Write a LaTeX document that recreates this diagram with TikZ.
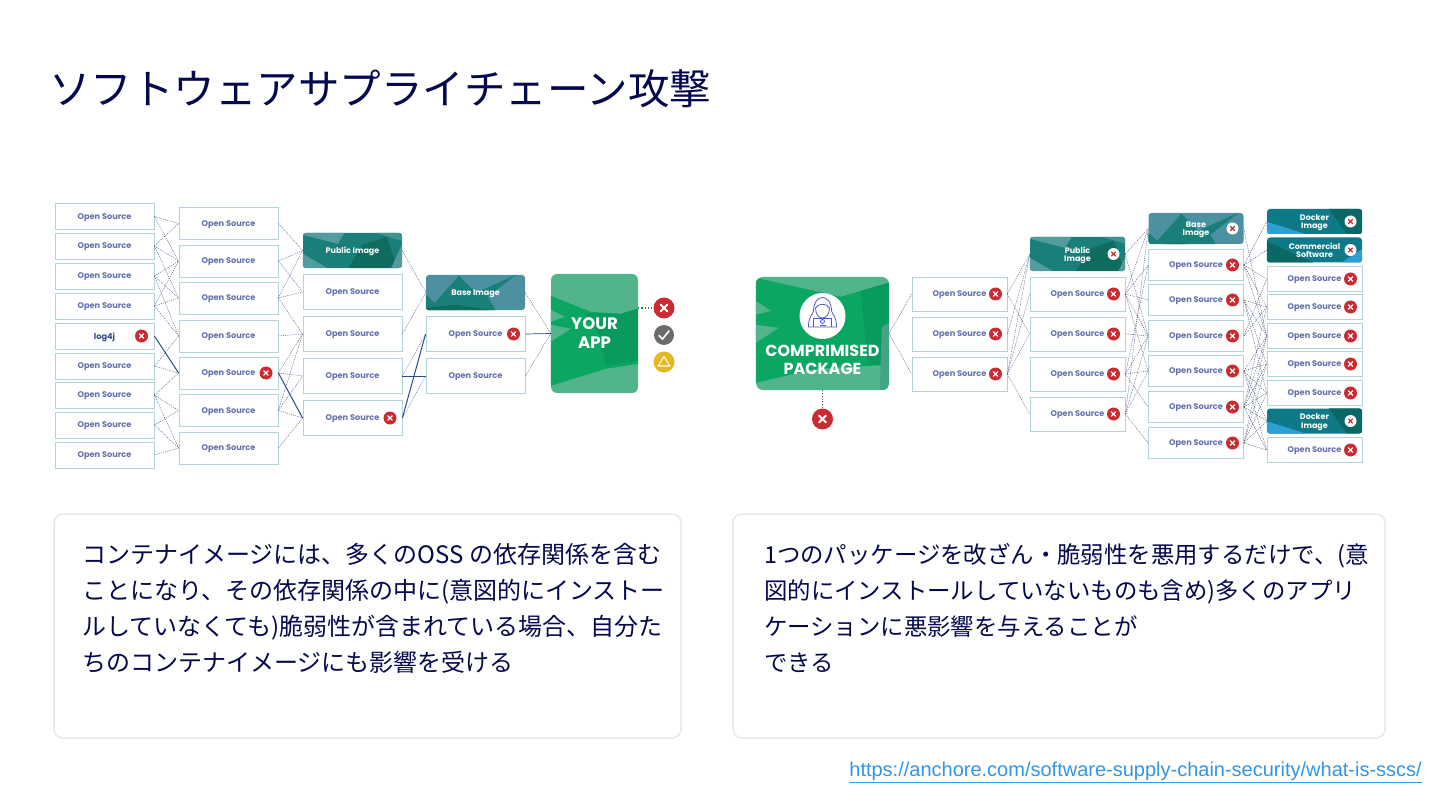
\documentclass[tikz,border=0pt]{standalone}
\usepackage{fontspec}
\setmainfont{Liberation Sans}
\newfontfamily\jpfont{Noto Sans CJK JP}
\newfontfamily\popfont{Poppins}
\usetikzlibrary{calc}
\definecolor{navy}{HTML}{06084F}
\definecolor{ossblue}{HTML}{6470AE}
\definecolor{boxline}{HTML}{B2D3DA}
\definecolor{panelline}{HTML}{E6E8EC}
\definecolor{linkblue}{HTML}{2F96E8}
\definecolor{depline}{HTML}{3C4A78}
\definecolor{hitline}{HTML}{2C4A8A}
\definecolor{markred}{HTML}{CB2A30}
\definecolor{markgrey}{HTML}{696B6C}
\definecolor{markyellow}{HTML}{E6B71E}
\definecolor{leafgreen}{HTML}{52B48A}
\definecolor{midgreen}{HTML}{0CA663}
\definecolor{deepgreen}{HTML}{099A5E}
\definecolor{pubteal}{HTML}{1A7F78}
\definecolor{pubdark}{HTML}{0F6C5E}
\definecolor{publight}{HTML}{529C9D}
\definecolor{baseblue}{HTML}{4C90A2}
\definecolor{dockteal}{HTML}{0E7A88}
\definecolor{dockdark}{HTML}{0B6766}
\definecolor{docklight}{HTML}{2CA0D2}
\newcommand{\paintfacets}[3]{
    \begin{scope}
        \clip[rounded corners=#2] (#1.south west) rectangle (#1.north east);
        \begin{scope}[shift={(#1.north west)}] #3 \end{scope}
    \end{scope}}
\newcommand{\pubfacets}{
    \fill[publight] (0,0) -- (42,0) -- (35,11) -- (0,2) -- cycle;
    \fill[publight] (0,21) -- (26,36) -- (0,36) -- cycle;
    \fill[pubdark] (45,36) -- (60,12) -- (84,4) -- (95,36) -- cycle;
    \fill[publight] (88,36) -- (99,12) -- (99,36) -- cycle;
    \fill[publight!70!pubteal] (72,0) -- (99,0) -- (99,8) -- cycle;}
\newcommand{\basefacets}{
    \fill[pubteal] (0,20) -- (9,28) -- (33,1) -- (50,18) -- (90,0) -- (62,22) -- (70,36) -- (0,36) -- cycle;
    \fill[pubdark] (0,33) -- (30,30) -- (70,36) -- (0,36) -- cycle;}
\newcommand{\dockfacets}{
    \fill[dockdark] (62,0) -- (95,0) -- (95,25) -- (80,25) -- cycle;
    \fill[docklight] (0,13) -- (38,25) -- (0,25) -- cycle;}
\newcommand{\commfacets}{
    \fill[dockdark] (0,4) -- (46,25) -- (0,25) -- cycle;
    \fill[docklight] (75,25) -- (95,12) -- (95,25) -- cycle;}
\newcommand{\appfacets}{
    \fill[midgreen] (0,22) -- (40,38) -- (70,40) -- (87,35) -- (87,90) -- (55,95) -- (0,112) -- cycle;
    \fill[deepgreen] (32,39) -- (70,40) -- (87,35) -- (87,87) -- (55,92) -- (48,60) -- cycle;
    \fill[leafgreen] (0,36) -- (14,43) -- (0,48) -- cycle;
    \fill[leafgreen] (0,51) -- (20,55) -- (0,68) -- cycle;}
\newcommand{\pkgfacets}{
    \fill[midgreen] (0,1) -- (85,20) -- (133,6) -- (133,88) -- (60,92) -- (0,106) -- cycle;
    \fill[deepgreen] (105,14) -- (133,6) -- (133,88) -- (112,88) -- cycle;
    \fill[leafgreen] (0,24) -- (15,34) -- (0,38) -- cycle;
    \fill[leafgreen] (0,48) -- (23,51) -- (0,66) -- cycle;
    \fill[pubteal!30!leafgreen] (126,50) -- (133,46) -- (133,113) -- (124,113) -- cycle;}
\begin{document}
\begin{tikzpicture}[x=1pt, y=-1pt,
    srcbox/.style={draw=boxline, line width=0.8pt, fill=white, inner sep=0pt, text depth=0pt, font=\popfont\bfseries\fontsize{8.2}{9}\selectfont, text=ossblue, align=center},
    tile/.style={rounded corners=3pt, inner sep=0pt, fill=#1},
    tilename/.style={inner sep=0pt, text=white, text depth=0pt, align=center, font=\popfont\bfseries\fontsize{8}{8.4}\selectfont},
    bigname/.style 2 args={inner sep=0pt, text=white, text depth=0pt, align=center, font=\popfont\bfseries\fontsize{#1}{#2}\selectfont},
    xcross/.style n args={3}{circle, inner sep=0pt, minimum size=#1, fill=#2, path picture={
        \draw[#3, line width={.1*#1}, line cap=round]
            ($(path picture bounding box.center)!.33!(path picture bounding box.north east)$) -- ($(path picture bounding box.center)!.33!(path picture bounding box.south west)$)
            ($(path picture bounding box.center)!.33!(path picture bounding box.north west)$) -- ($(path picture bounding box.center)!.33!(path picture bounding box.south east)$);}},
    dep/.style={depline, line width=0.35pt, dash pattern=on 1.2pt off 1pt},
    hit/.style={hitline, line width=1pt},
    solidlink/.style={hitline, line width=0.7pt},
    panel/.style={draw=panelline, line width=1.5pt, rounded corners=9pt, fill=white, inner sep=0pt}]
    \useasboundingbox (0,0) rectangle (1440,810);

    \node[anchor=west, text=navy, font=\jpfont\fontsize{41.5}{42}\selectfont, inner sep=0pt] (title) at (49,89) {ソフトウェアサプライチェーン攻撃};

    % Left tree
    \foreach \i/\y in {1/216.5, 2/246, 3/276, 4/306, 6/366, 7/395, 8/425, 9/455}
        \node[srcbox, minimum width=99, minimum height=26] (a\i) at (104.5,\y) {Open Source};
    \node[srcbox, minimum width=99, minimum height=26, text=hitline] (a5) at (104.5,336) {log4j};
    \foreach \i/\y in {1/223.5, 2/261, 3/298, 4/336, 5/373, 6/410.5, 7/448}
        \node[srcbox, minimum width=99, minimum height=32] (b\i) at (228.5,\y) {Open Source};
    \node[tile=pubteal, minimum width=99, minimum height=35] (c0) at (352.5,250.5) {};
    \paintfacets{c0}{3pt}{\pubfacets}
    \node[tilename] (c0name) at (c0) {Public Image};
    \foreach \i/\y in {1/292, 2/334, 3/376, 4/418}
        \node[srcbox, minimum width=99, minimum height=35] (c\i) at (352.5,\y) {Open Source};
    \node[tile=baseblue, minimum width=99, minimum height=35] (d0) at (475.5,292.5) {};
    \paintfacets{d0}{3pt}{\basefacets}
    \node[tilename] (d0name) at (d0) {Base Image};
    \foreach \i/\y in {1/334, 2/376}
        \node[srcbox, minimum width=99, minimum height=35] (d\i) at (475.5,\y) {Open Source};
    \node[tile=leafgreen, rounded corners=6pt, minimum width=87, minimum height=119] (app) at (594.5,333.5) {};
    \paintfacets{app}{6pt}{\appfacets}
    \node[bigname={16.6}{19}] (appname) at (app) {YOUR\\APP};

    \node[xcross={13}{markred}{white}] (xa5) at (141.5,336) {};
    \node[xcross={13}{markred}{white}] (xb5) at (266,373) {};
    \node[xcross={13}{markred}{white}] (xc4) at (390,418) {};
    \node[xcross={13}{markred}{white}] (xd1) at (513.5,334) {};
    \node[xcross={21}{markred}{white}] (appbad) at (664,308) {};
    \node[circle, inner sep=0pt, minimum size=20, fill=markgrey] (appok) at (664,335) {};
    \node[circle, inner sep=0pt, minimum size=21, fill=markyellow] (appwarn) at (664,362) {};
    \draw[white, line width=1.6pt, line cap=round] (659,335.5) -- (662.5,339) -- (669,331);
    \draw[white, line width=1.1pt, line join=round] (664,356.5) -- (670,366) -- (658,366) -- cycle;

    \foreach \s/\t in {a1/b1, a1/b2, a2/b1, a2/b2, a2/b3, a3/b2, a3/b3, a3/b4, a4/b2, a4/b3, a4/b4,
        a6/b4, a6/b5, a7/b5, a7/b6, a7/b7, a8/b6, a8/b7, a9/b7,
        b1/c0, b2/c0, b2/c1, b3/c0, b3/c1, b3/c2, b4/c2, b5/c2, b5/c3, b6/c2, b6/c3, b6/c4, b7/c4,
        c0/d0, c2/d0, c3/d1, c4/d2}
        \draw[dep] (\s.east) -- (\t.west);
    \draw[dep] (d0.east) -- (app.west);
    \draw[dep] (d2.east) -- (app.west);
    \draw[hit] (a5.east) -- (b5.west);
    \draw[hit] (b5.east) -- (c4.west);
    \draw[hit] (c4.east) -- (d1.west);
    \draw[solidlink] (c3.east) -- (d2.west);
    \draw[solidlink] (d1.east) -- (app.west);
    \draw[pubteal, line width=1.2pt, dotted] (app.east |- appbad) -- (appbad.west);

    % Right tree
    \node[tile=leafgreen, rounded corners=7pt, minimum width=133, minimum height=113] (pkg) at (822.5,333.5) {};
    \paintfacets{pkg}{7pt}{\pkgfacets}
    \node[circle, fill=white, inner sep=0pt, minimum size=46] (hood) at (822.5,316) {};
    \node[bigname={16}{18}] (pkgname) at (822.5,360) {COMPRIMISED\\PACKAGE};
    \begin{scope}[shift={(hood.center)}, ossblue!80!blue, line width=0.8pt]
        \draw (-14,11) .. controls (-14,0) and (-10,-1) .. (-9,-5) .. controls (-9,-23) and (9,-23) .. (9,-5) .. controls (10,-1) and (14,0) .. (14,11) -- cycle;
        \draw (-7,-8) .. controls (-5,-13) and (5,-13) .. (7,-8) .. controls (7,-1) and (3,2) .. (0,2) .. controls (-3,2) and (-7,-1) .. (-7,-8);
        \draw (-9,11) -- (-9,2) -- (9,2) -- (9,11);
        \draw (0,5.5) circle (2);
        \draw (-3,9.5) -- (3,9.5);
    \end{scope}
    \node[xcross={21}{markred}{white}] (pkgbad) at (822.5,419) {};
    \draw[depline, line width=0.8pt, dotted] (pkg.south) -- (pkgbad.north);

    \foreach \i/\y in {1/294, 2/334, 3/374} {
        \node[srcbox, minimum width=95, minimum height=34] (e\i) at (959.5,\y) {Open Source};
        \node[xcross={13}{markred}{white}] (xe\i) at (995.5,\y) {};
    }
    \node[tile=pubteal, minimum width=95, minimum height=34] (f0) at (1077.5,254) {};
    \paintfacets{f0}{3pt}{\pubfacets}
    \node[tilename] (f0name) at (f0) {Public\\Image};
    \node[xcross={12}{white}{markred}] (xf0) at (1113.5,254) {};
    \foreach \i/\y in {1/294, 2/334, 3/374, 4/414} {
        \node[srcbox, minimum width=95, minimum height=34] (f\i) at (1077.5,\y) {Open Source};
        \node[xcross={13}{markred}{white}] (xf\i) at (1113.5,\y) {};
    }
    \node[tile=baseblue, minimum width=95, minimum height=31] (g0) at (1196,228.5) {};
    \paintfacets{g0}{3pt}{\basefacets}
    \node[tilename] (g0name) at (g0) {Base\\Image};
    \node[xcross={12}{white}{markred}] (xg0) at (1232.5,228.5) {};
    \foreach \i/\y in {1/265, 2/300, 3/336, 4/371, 5/407, 6/443} {
        \node[srcbox, minimum width=95, minimum height=31] (g\i) at (1196,\y) {Open Source};
        \node[xcross={13}{markred}{white}] (xg\i) at (1232.5,\y) {};
    }
    \node[tile=dockteal, minimum width=95, minimum height=25] (h1) at (1314.5,221.5) {};
    \paintfacets{h1}{3pt}{\dockfacets}
    \node[tilename] (h1name) at (h1) {Docker\\Image};
    \node[tile=dockteal, minimum width=95, minimum height=25] (h2) at (1314.5,250) {};
    \paintfacets{h2}{3pt}{\commfacets}
    \node[tilename] (h2name) at (h2) {Commercial\\Software};
    \node[tile=dockteal, minimum width=95, minimum height=25] (h8) at (1314.5,421) {};
    \paintfacets{h8}{3pt}{\dockfacets}
    \node[tilename] (h8name) at (h8) {Docker\\Image};
    \foreach \i/\y in {1/221.5, 2/250, 8/421}
        \node[xcross={12}{white}{markred}] (xh\i) at (1350.5,\y) {};
    \foreach \i/\y in {3/279, 4/307, 5/336, 6/364, 7/393, 9/450} {
        \node[srcbox, minimum width=95, minimum height=24.5] (h\i) at (1314.5,\y) {Open Source};
        \node[xcross={13}{markred}{white}] (xh\i) at (1350.5,\y) {};
    }

    \foreach \t in {e1, e3}
        \draw[dep] (pkg.east) -- (\t.west);
    \foreach \s/\t in {e1/f0, e1/f2, e2/f0, e3/f0, e3/f1, e3/f2, e3/f4,
        f0/g0, f0/g3, f1/g0, f1/g1, f1/g2, f1/g3, f1/g4, f2/g3, f3/g1, f3/g3, f3/g4, f3/g5,
        f4/g0, f4/g3, f4/g4, f4/g6,
        g0/h5, g1/h1, g1/h2, g1/h3, g1/h4, g1/h5, g2/h4, g2/h5, g2/h6, g2/h7, g3/h3, g3/h4,
        g4/h5, g4/h6, g4/h7, g4/h8, g4/h9, g5/h4, g5/h5, g5/h6, g5/h7, g5/h8, g5/h9,
        g6/h5, g6/h6, g6/h7, g6/h8, g6/h9}
        \draw[dep] (\s.east) -- (\t.west);

    % Text panels
    \node[panel, minimum width=627, minimum height=224] (leftpanel) at (367.5,626) {};
    \node[panel, minimum width=652, minimum height=224] (rightpanel) at (1059,626) {};
    \node[anchor=north west, inner sep=0pt, align=left, text=navy, font=\jpfont\fontsize{24}{36}\selectfont] (lefttext) at (82,543) {コンテナイメージには、多くのOSS の依存関係を含む\\ことになり、その依存関係の中に(意図的にインストー\\ルしていなくても)脆弱性が含まれている場合、自分た\\ちのコンテナイメージにも影響を受ける};
    \node[anchor=north west, inner sep=0pt, align=left, text=navy, font=\jpfont\fontsize{23.4}{36}\selectfont] (righttext) at (764,543) {1つのパッケージを改ざん・脆弱性を悪用するだけで、(意\\図的にインストールしていないものも含め)多くのアプリ\\ケーションに悪影響を与えることが\\できる};
    \node[anchor=east, inner sep=0pt, text=linkblue, font=\fontsize{20}{22}\selectfont] (source) at (1422,772) {\underline{https://anchore.com/software-supply-chain-security/what-is-sscs/}};
\end{tikzpicture}
\end{document}
